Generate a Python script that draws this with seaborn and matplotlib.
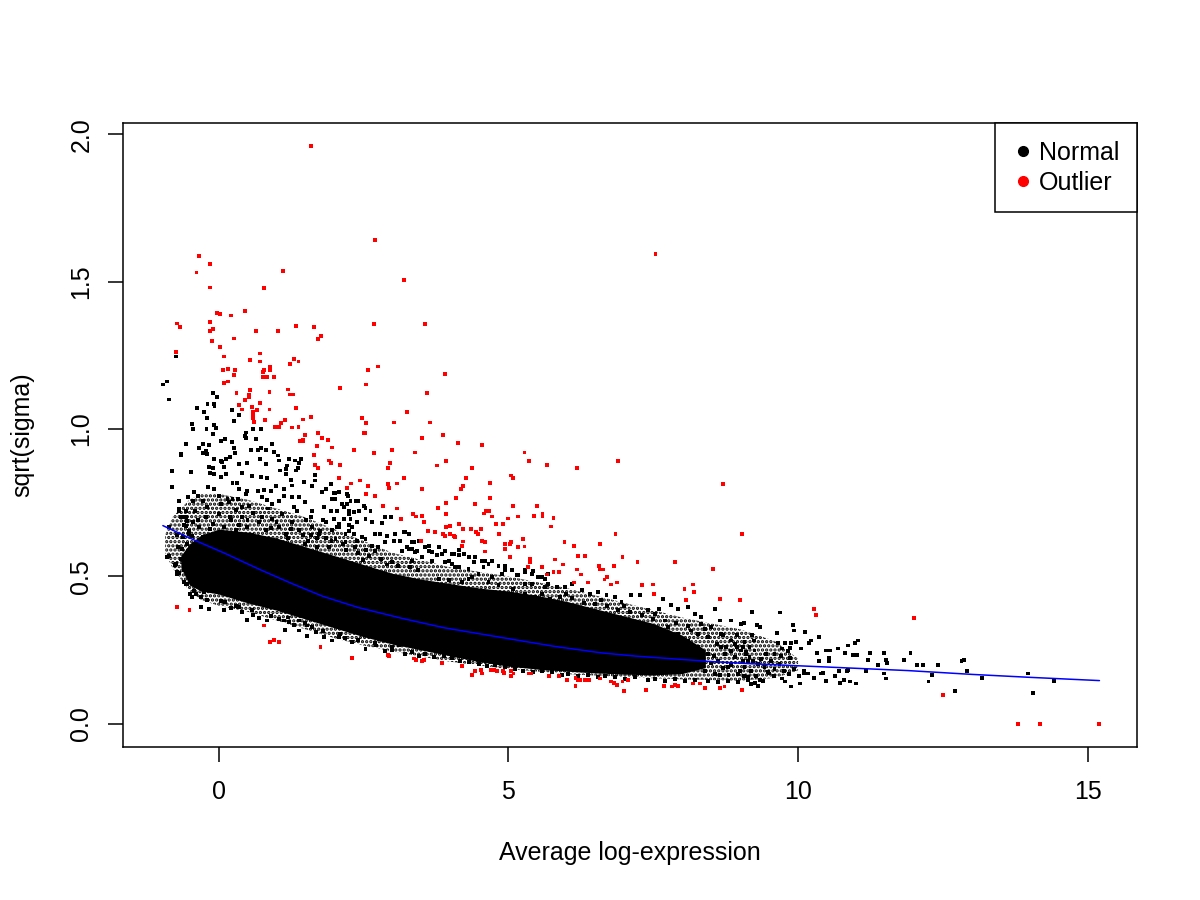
import matplotlib
matplotlib.use("Agg")
import matplotlib.pyplot as plt
import pandas as pd
import seaborn as sns
from matplotlib.lines import Line2D

sns.set_style("ticks")
plt.rcParams['font.family'] = ['Liberation Sans', 'DejaVu Sans']
plt.rcParams['text.color'] = 'black'
plt.rcParams['axes.labelcolor'] = 'black'
plt.rcParams['xtick.color'] = 'black'
plt.rcParams['ytick.color'] = 'black'
plt.rcParams['hatch.linewidth'] = 1.6

# ---- data (x = average log-expression, y = sqrt(sigma)) ----

# solid dense core of the cloud: lower / upper edge per x
core_x = [-0.65, -0.5, -0.3, 0.0, 0.5, 1.0, 1.5, 2.0, 2.5, 3.0, 3.5, 4.0, 4.5,
          5.0, 5.5, 6.0, 6.5, 7.0, 7.5, 8.0, 8.4]
core_hi = [0.57, 0.61, 0.64, 0.66, 0.65, 0.63, 0.60, 0.57, 0.54, 0.51, 0.49, 0.475, 0.46,
           0.45, 0.435, 0.415, 0.39, 0.365, 0.34, 0.30, 0.25]
core_lo = [0.53, 0.47, 0.45, 0.44, 0.41, 0.385, 0.355, 0.325, 0.295, 0.27, 0.25, 0.23, 0.21,
           0.195, 0.185, 0.178, 0.172, 0.168, 0.165, 0.17, 0.19]

# looser, speckled zone around the core
halo_x = [-0.92, -0.8, -0.5, -0.3, 0.0, 0.5, 1.0, 1.5, 2.0, 2.5, 3.0, 4.0, 5.0, 6.0, 7.0, 8.0,
          9.0, 9.6, 10.0]
halo_hi = [0.64, 0.70, 0.76, 0.78, 0.78, 0.76, 0.73, 0.70, 0.66, 0.62, 0.58, 0.53, 0.50, 0.46,
           0.41, 0.36, 0.32, 0.28, 0.22]
halo_lo = [0.58, 0.53, 0.45, 0.42, 0.40, 0.38, 0.35, 0.32, 0.29, 0.265, 0.245, 0.21, 0.185,
           0.168, 0.158, 0.15, 0.145, 0.155, 0.18]

normal_far_left = [(-0.89, 1.161), (-0.96, 1.151), (-0.86, 1.10), (-0.74, 1.246), (-0.809, 0.857),
                   (-0.654, 0.916), (-0.557, 0.95), (-0.683, 0.723), (-0.798, 0.803), (-0.89, 0.567),
                   (-0.74, 0.542), (-0.712, 0.514), (-0.54, 0.474), (-0.494, 0.44), (-0.683, 0.757),
                   (-0.597, 0.70), (-0.54, 0.689), (-0.568, 0.672), (-0.511, 0.655), (-0.453, 0.638),
                   (-0.54, 0.61), (-0.626, 0.593), (-0.597, 0.554), (-0.86, 0.666), (-0.86, 0.57)]

normal_upper_left = [(-0.098, 1.123), (-0.029, 1.108), (-0.373, 1.072), (-0.19, 1.084), (-0.075, 1.086),
                     (-0.069, 1.077), (-0.247, 1.057), (-0.201, 1.038), (0.229, 1.065), (0.356, 1.048),
                     (0.264, 1.028), (-0.459, 1.018), (-0.436, 1.0), (-0.075, 1.012), (-0.046, 1.003),
                     (-0.207, 1.0), (-0.103, 0.984), (0.47, 0.988), (0.602, 0.999), (0.729, 1.001),
                     (0.654, 0.967), (0.482, 0.97), (0.459, 0.977), (0.115, 0.967), (0.046, 0.958),
                     (0.229, 0.957), (-0.562, 0.95), (-0.264, 0.95), (-0.339, 0.936), (-0.161, 0.947),
                     (0.27, 0.935), (0.287, 0.918), (0.195, 0.905), (0.126, 0.899), (0.04, 0.891),
                     (0.556, 0.93), (0.688, 0.93), (0.729, 0.935), (0.815, 0.93), (0.918, 0.95),
                     (-0.648, 0.913), (-0.275, 0.918), (-0.218, 0.927), (-0.195, 0.914), (-0.075, 0.899),
                     (0.057, 0.888), (-0.092, 0.867), (0.356, 0.882), (0.499, 0.884), (0.717, 0.899),
                     (0.815, 0.882), (1.044, 0.893), (1.033, 0.91), (0.958, 0.922), (1.216, 0.899),
                     (1.32, 0.893), (1.417, 0.899), (1.388, 0.884), (1.188, 0.876), (1.159, 0.865),
                     (1.342, 0.859), (1.377, 0.867), (-0.476, 0.854), (-0.161, 0.871), (-0.149, 0.85),
                     (-0.075, 0.848), (0.097, 0.871), (0.126, 0.848), (0.401, 0.85), (0.574, 0.841),
                     (0.729, 0.837), (0.843, 0.834), (1.055, 0.859), (1.159, 0.848), (1.245, 0.828),
                     (1.273, 0.808), (0.04, 0.837), (0.241, 0.816), (0.327, 0.816), (0.356, 0.797),
                     (-0.419, 0.786), (-0.189, 0.803), (-0.075, 0.797), (0.011, 0.771), (0.499, 0.791),
                     (0.688, 0.791), (0.786, 0.794), (0.9, 0.791), (0.987, 0.805), (1.13, 0.797),
                     (1.474, 0.82), (1.618, 0.805), (1.847, 0.797), (1.991, 0.782), (1.79, 0.786),
                     (1.658, 0.843), (1.658, 0.825), (1.945, 0.812), (2.077, 0.786), (2.237, 0.774),
                     (-0.534, 0.769), (-0.361, 0.774), (-0.275, 0.757), (-0.436, 0.754), (-0.688, 0.729),
                     (-0.562, 0.723), (-0.648, 0.701), (-0.591, 0.673), (-0.62, 0.633), (0.155, 0.763),
                     (0.241, 0.763), (0.344, 0.763), (0.47, 0.78), (0.528, 0.74), (0.401, 0.735),
                     (0.183, 0.752), (0.757, 0.769), (0.843, 0.76), (0.918, 0.746), (1.044, 0.757),
                     (1.13, 0.771), (1.273, 0.769), (1.388, 0.769), (1.302, 0.735), (1.492, 0.752),
                     (1.618, 0.723), (1.819, 0.735), (1.933, 0.723), (2.019, 0.763), (2.163, 0.735),
                     (2.249, 0.723), (1.991, 0.695), (2.077, 0.667), (2.249, 0.673)]

normal_dense_left = [(-0.562, 0.701), (-0.448, 0.684), (-0.333, 0.667), (-0.218, 0.701), (-0.103, 0.678),
                     (0.011, 0.712), (0.098, 0.667), (0.212, 0.69), (0.298, 0.656), (0.413, 0.701),
                     (0.499, 0.667), (0.585, 0.639), (0.7, 0.684), (0.815, 0.656), (0.929, 0.695),
                     (1.044, 0.667), (1.159, 0.644), (1.274, 0.684), (1.388, 0.656), (1.503, 0.69),
                     (1.618, 0.667), (1.733, 0.644), (1.847, 0.684), (1.962, 0.656), (2.077, 0.678),
                     (2.191, 0.644), (2.306, 0.667), (-0.505, 0.644), (-0.275, 0.633), (0.011, 0.633),
                     (1.55, 0.62), (1.7, 0.60), (1.85, 0.63), (1.6, 0.64), (1.75, 0.655), (1.9, 0.60),
                     (1.5, 0.61), (2.4, 0.58), (2.6, 0.57), (2.8, 0.56), (3.0, 0.55), (2.2, 0.59),
                     (2.7, 0.585), (2.9, 0.54), (3.1, 0.535), (3.3, 0.53), (3.45, 0.52), (2.5, 0.555),
                     (-0.4, 0.72), (-0.2, 0.735), (0.05, 0.745), (0.3, 0.725), (0.6, 0.715), (0.85, 0.73),
                     (1.1, 0.71), (1.35, 0.72), (1.6, 0.70), (1.8, 0.69), (-0.35, 0.69), (0.2, 0.70),
                     (0.5, 0.69), (0.75, 0.70), (1.0, 0.685), (1.25, 0.66), (1.45, 0.64), (1.7, 0.63),
                     (1.95, 0.62), (2.15, 0.61), (2.35, 0.60), (2.55, 0.59), (2.75, 0.60), (-0.15, 0.66),
                     (0.35, 0.675), (0.9, 0.665), (1.2, 0.63), (-0.45, 0.43), (-0.2, 0.42), (0.05, 0.415),
                     (0.3, 0.40), (0.6, 0.37), (0.9, 0.365), (1.2, 0.36), (1.5, 0.34), (1.8, 0.315),
                     (2.1, 0.305), (2.4, 0.285), (2.7, 0.275), (3.0, 0.26), (-0.6, 0.48), (-0.3, 0.43),
                     (-0.7, 0.60), (-0.65, 0.56), (-0.6, 0.52), (-0.72, 0.64), (-0.55, 0.58), (-0.5, 0.52)]

normal_lower_left = [(-0.746, 0.539), (-0.677, 0.51), (-0.723, 0.508), (-0.562, 0.474), (-0.419, 0.449),
                     (-0.39, 0.44), (-0.247, 0.446), (-0.304, 0.395), (-0.161, 0.389), (0.115, 0.412),
                     (0.212, 0.393), (0.098, 0.384), (0.356, 0.395), (0.413, 0.378), (0.499, 0.352),
                     (0.585, 0.386), (0.7, 0.359), (0.843, 0.35), (1.044, 0.355), (1.147, 0.318),
                     (1.302, 0.336), (1.532, 0.298), (1.388, 0.316), (1.675, 0.31), (1.819, 0.293),
                     (1.962, 0.282), (2.077, 0.293), (2.18, 0.29), (2.306, 0.276), (2.536, 0.254),
                     (2.72, 0.265), (2.88, 0.246), (2.995, 0.25), (1.13, 0.35), (1.216, 0.344),
                     (1.388, 0.35), (1.532, 0.333), (1.618, 0.327), (2.077, 0.327), (2.278, 0.316),
                     (2.421, 0.31), (2.593, 0.299), (2.765, 0.287), (2.908, 0.282), (3.11, 0.265)]

normal_lower_mid = [(3.224, 0.236), (3.339, 0.242), (3.454, 0.231), (3.569, 0.236), (3.712, 0.225),
                    (3.884, 0.231), (4.028, 0.223), (4.171, 0.214), (4.315, 0.208), (4.487, 0.203),
                    (4.63, 0.197), (4.773, 0.2), (4.946, 0.191), (5.118, 0.186), (5.261, 0.18),
                    (5.433, 0.174), (5.577, 0.18), (5.749, 0.174), (5.921, 0.166), (6.036, 0.169),
                    (6.208, 0.163), (6.38, 0.166), (6.552, 0.157), (6.667, 0.163), (6.839, 0.157),
                    (7.011, 0.152), (7.183, 0.157), (7.413, 0.148), (7.527, 0.152), (7.699, 0.146),
                    (7.872, 0.15), (8.044, 0.144), (8.216, 0.148), (8.445, 0.146), (8.618, 0.14),
                    (8.79, 0.146), (8.962, 0.14), (9.134, 0.148)]

normal_upper_mid = [(2.019, 0.782), (2.077, 0.786), (1.962, 0.763), (2.048, 0.721), (2.134, 0.746),
                    (2.22, 0.746), (2.278, 0.757), (2.364, 0.755), (2.409, 0.755), (2.507, 0.74),
                    (2.536, 0.732), (2.622, 0.72), (2.22, 0.778), (2.249, 0.712), (2.335, 0.718),
                    (2.421, 0.723), (2.163, 0.695), (2.278, 0.695), (2.392, 0.684), (2.536, 0.695),
                    (2.65, 0.684), (2.823, 0.68), (2.88, 0.701), (2.983, 0.701), (2.048, 0.667),
                    (2.249, 0.655), (2.335, 0.644), (2.478, 0.633), (2.708, 0.644), (2.794, 0.644),
                    (2.909, 0.638), (3.052, 0.644), (3.196, 0.65), (3.282, 0.644), (2.019, 0.627),
                    (2.191, 0.616), (2.392, 0.621), (2.536, 0.627), (2.65, 0.604), (2.88, 0.616),
                    (3.023, 0.621), (3.138, 0.621), (3.339, 0.616), (3.5, 0.621), (3.626, 0.587),
                    (3.798, 0.599), (3.913, 0.587), (4.027, 0.576), (4.142, 0.59), (4.228, 0.576),
                    (3.282, 0.593), (3.167, 0.587), (3.396, 0.582), (4.429, 0.567), (4.601, 0.553),
                    (4.716, 0.551), (4.831, 0.536), (4.945, 0.536), (4.572, 0.531), (4.314, 0.525),
                    (4.085, 0.531), (3.97, 0.553), (3.683, 0.553), (3.511, 0.565), (3.339, 0.553),
                    (5.06, 0.52), (5.175, 0.503), (5.29, 0.52), (5.404, 0.508), (5.519, 0.497),
                    (5.634, 0.491), (5.691, 0.508), (4.888, 0.508), (4.716, 0.497), (4.486, 0.508),
                    (4.372, 0.497), (5.404, 0.474), (5.634, 0.463), (5.089, 0.457), (5.29, 0.474),
                    (4.831, 0.469), (4.659, 0.48), (4.314, 0.491), (4.2, 0.48), (3.97, 0.486),
                    (3.798, 0.491), (5.576, 0.44), (5.72, 0.423), (5.462, 0.429), (5.29, 0.44),
                    (5.175, 0.429)]

normal_upper_right = [(3.224, 0.65), (3.282, 0.644), (3.368, 0.616), (3.454, 0.621), (3.253, 0.599),
                      (3.339, 0.593), (3.425, 0.587), (3.569, 0.599), (3.626, 0.604), (3.683, 0.582),
                      (3.769, 0.571), (3.855, 0.576), (4.056, 0.576), (4.142, 0.571), (4.228, 0.576),
                      (3.913, 0.548), (4.027, 0.542), (4.142, 0.531), (4.315, 0.565), (4.401, 0.548),
                      (4.544, 0.553), (4.659, 0.542), (4.831, 0.536), (4.946, 0.52), (5.146, 0.503),
                      (5.29, 0.514), (5.433, 0.519), (5.577, 0.497), (5.691, 0.474), (5.835, 0.463),
                      (5.978, 0.463), (6.093, 0.474), (6.265, 0.452), (6.408, 0.44), (6.552, 0.446),
                      (6.695, 0.435), (6.839, 0.429), (6.953, 0.412), (7.125, 0.435), (7.269, 0.435),
                      (7.413, 0.384), (7.527, 0.372), (7.671, 0.423), (7.814, 0.401), (7.929, 0.389),
                      (8.101, 0.395), (8.216, 0.372), (8.33, 0.361), (8.56, 0.389), (8.646, 0.35),
                      (8.847, 0.35), (9.019, 0.338), (9.076, 0.276), (8.904, 0.27), (8.675, 0.259),
                      (8.445, 0.293), (8.273, 0.304), (5.9, 0.43), (6.1, 0.425), (6.3, 0.41),
                      (6.5, 0.405), (6.7, 0.40), (6.9, 0.385), (7.1, 0.38), (7.3, 0.37), (7.5, 0.355),
                      (7.7, 0.35), (7.9, 0.34), (8.1, 0.33), (6.0, 0.44), (6.6, 0.42), (7.0, 0.40),
                      (7.6, 0.39), (8.4, 0.32), (8.7, 0.30), (8.95, 0.30), (9.2, 0.30)]

normal_right_mid = [(7.757, 0.327), (7.929, 0.304), (8.101, 0.282), (8.273, 0.259), (8.445, 0.236),
                    (8.618, 0.214), (8.79, 0.191), (8.962, 0.169), (9.134, 0.214), (9.019, 0.248),
                    (8.847, 0.282), (8.675, 0.304), (8.503, 0.327), (8.33, 0.338), (8.158, 0.316),
                    (7.986, 0.259), (7.814, 0.236), (8.044, 0.214), (8.216, 0.191), (8.388, 0.18),
                    (8.56, 0.169), (8.732, 0.236), (8.904, 0.225), (9.076, 0.191), (9.162, 0.259),
                    (8.6, 0.27), (8.75, 0.26), (8.85, 0.245), (8.55, 0.23), (8.7, 0.19), (8.85, 0.20),
                    (9.0, 0.18), (8.5, 0.205), (8.65, 0.165), (8.95, 0.26), (9.1, 0.235), (8.8, 0.165)]

normal_tail_cluster = [(9.048, 0.259), (9.105, 0.242), (9.162, 0.225), (9.22, 0.214), (9.076, 0.191),
                       (9.191, 0.18), (9.306, 0.203), (9.363, 0.22), (9.421, 0.191), (9.478, 0.174),
                       (9.535, 0.214), (9.134, 0.157), (9.277, 0.163), (9.392, 0.146), (9.593, 0.186),
                       (9.679, 0.203), (9.765, 0.18), (9.851, 0.169), (9.937, 0.186), (10.023, 0.163),
                       (10.109, 0.18), (9.048, 0.214), (9.248, 0.248), (9.449, 0.237), (9.593, 0.237),
                       (9.191, 0.135), (9.065, 0.163)]

normal_tail = [(9.21, 0.38), (9.69, 0.377), (9.91, 0.336), (9.93, 0.316), (10.12, 0.312), (9.07, 0.34),
               (9.29, 0.336), (9.35, 0.329), (9.64, 0.306), (9.24, 0.282), (10.36, 0.295), (10.22, 0.282),
               (10.19, 0.275), (11.03, 0.282), (10.98, 0.275), (10.86, 0.265), (9.97, 0.278), (9.88, 0.272),
               (9.78, 0.272), (9.66, 0.272), (9.72, 0.255), (9.86, 0.258), (9.83, 0.245), (9.86, 0.224),
               (9.70, 0.231), (10.05, 0.255), (10.48, 0.248), (10.55, 0.248), (10.69, 0.255), (10.33, 0.241),
               (10.36, 0.214), (10.53, 0.224), (10.53, 0.214), (10.81, 0.241), (10.95, 0.234), (11.02, 0.234),
               (11.24, 0.241), (11.48, 0.241), (11.51, 0.217), (11.53, 0.207), (11.20, 0.217), (11.38, 0.20),
               (11.82, 0.217), (11.94, 0.241), (12.05, 0.20), (12.15, 0.20), (12.41, 0.20), (12.82, 0.214),
               (12.86, 0.217), (12.91, 0.177), (12.31, 0.166), (11.48, 0.17), (11.51, 0.153), (11.17, 0.177),
               (10.86, 0.183), (10.84, 0.177), (10.71, 0.177), (12.25, 0.143), (12.70, 0.112), (13.17, 0.156),
               (13.96, 0.17), (14.06, 0.105), (14.41, 0.146), (11.0, 0.136), (10.89, 0.143), (10.72, 0.139),
               (10.48, 0.146), (10.79, 0.149), (10.64, 0.163), (10.43, 0.173), (10.40, 0.17), (10.28, 0.156),
               (10.17, 0.17), (10.10, 0.17), (10.03, 0.136), (9.88, 0.126), (9.78, 0.143), (9.72, 0.153),
               (9.50, 0.17), (9.59, 0.163), (9.35, 0.149), (9.26, 0.139), (9.31, 0.129)]

outlier_high = [(1.60, 1.96), (2.70, 1.64), (3.20, 1.504), (-0.34, 1.586), (-0.14, 1.559), (-0.38, 1.531),
                (1.12, 1.535), (-0.15, 1.48), (0.79, 1.477), (-0.71, 1.358), (-0.67, 1.345), (-0.02, 1.392),
                (0.02, 1.389), (0.21, 1.385), (0.45, 1.399), (-0.15, 1.362), (-0.15, 1.334), (-0.09, 1.338),
                (0.64, 1.331), (1.03, 1.334), (1.33, 1.351), (1.64, 1.345), (1.77, 1.317), (1.72, 1.304),
                (2.69, 1.355), (3.56, 1.355), (-0.12, 1.297), (0.26, 1.307), (0.02, 1.277), (-0.74, 1.26),
                (0.72, 1.256), (0.09, 1.246), (0.55, 1.233), (0.71, 1.229), (1.31, 1.236), (1.38, 1.229),
                (1.24, 1.219), (0.89, 1.209), (0.89, 1.199), (0.07, 1.199), (0.17, 1.202), (0.28, 1.199),
                (0.76, 1.192), (0.79, 1.199), (0.26, 1.182), (0.76, 1.175), (0.84, 1.175), (0.95, 1.175),
                (0.17, 1.161), (0.10, 1.155), (2.58, 1.199), (2.75, 1.212), (2.55, 1.151), (2.10, 1.138),
                (1.20, 1.134), (0.55, 1.131), (0.88, 1.127), (1.24, 1.117), (1.29, 1.117), (0.31, 1.121),
                (0.52, 1.114), (0.53, 1.11), (0.45, 1.097), (0.71, 1.087), (0.36, 1.08), (0.40, 1.066),
                (0.57, 1.073), (0.88, 1.066), (1.34, 1.07), (0.60, 1.059), (0.67, 1.063), (0.60, 1.046),
                (0.59, 1.036), (0.62, 1.025), (0.81, 1.029), (1.14, 1.029), (1.46, 1.032), (1.60, 1.042),
                (1.08, 1.019), (1.05, 1.008), (0.98, 1.008), (1.27, 1.005), (1.38, 1.008), (2.48, 1.036),
                (2.55, 1.019), (3.03, 1.022), (3.25, 1.059), (7.54, 1.593), (3.91, 1.188), (3.60, 1.121),
                (3.65, 1.022)]

outlier_mid = [(3.87, 0.981), (3.51, 0.968), (4.13, 0.951), (4.54, 0.944), (3.39, 0.92), (5.28, 0.92),
               (5.35, 0.89), (3.92, 0.89), (3.77, 0.876), (4.37, 0.869), (5.66, 0.879), (6.18, 0.869),
               (6.90, 0.89), (3.20, 0.835), (4.27, 0.835), (5.04, 0.842), (5.08, 0.835), (4.68, 0.818),
               (3.51, 0.795), (4.22, 0.805), (4.18, 0.795), (4.68, 0.767), (4.10, 0.767), (8.71, 0.812),
               (3.92, 0.75), (4.42, 0.744), (3.79, 0.733), (5.08, 0.74), (5.49, 0.74), (3.92, 0.71),
               (4.61, 0.72), (4.66, 0.72), (4.58, 0.713), (4.72, 0.703), (3.36, 0.71), (3.41, 0.703),
               (3.51, 0.706), (4.99, 0.696), (5.16, 0.703), (5.44, 0.706), (5.59, 0.713), (5.59, 0.706),
               (5.78, 0.699), (3.55, 0.683), (3.99, 0.672), (4.15, 0.676), (4.78, 0.676), (4.91, 0.676),
               (5.73, 0.669), (3.61, 0.655), (3.92, 0.666), (4.22, 0.662), (4.35, 0.662), (4.53, 0.662),
               (3.73, 0.649), (3.87, 0.645), (3.91, 0.638), (3.99, 0.645), (4.06, 0.638), (4.08, 0.632),
               (4.44, 0.649), (4.47, 0.645), (4.84, 0.642), (6.85, 0.642), (9.04, 0.645), (4.22, 0.618),
               (4.54, 0.621), (4.60, 0.615), (4.94, 0.611), (5.04, 0.615), (5.03, 0.608), (5.25, 0.628),
               (5.97, 0.615), (6.13, 0.604), (6.59, 0.611), (4.20, 0.604), (5.16, 0.598), (5.28, 0.601),
               (4.94, 0.594), (4.60, 0.584), (5.37, 0.56), (5.37, 0.55), (5.80, 0.557), (6.20, 0.57),
               (6.33, 0.57), (6.97, 0.567), (5.94, 0.54), (5.34, 0.533), (5.03, 0.567), (7.23, 0.55),
               (7.87, 0.547), (6.56, 0.536), (6.59, 0.523), (6.63, 0.523), (6.83, 0.536), (6.18, 0.523),
               (5.87, 0.516), (5.78, 0.516), (5.66, 0.506), (6.25, 0.506), (5.58, 0.53), (6.70, 0.496),
               (6.66, 0.489), (6.14, 0.479), (6.37, 0.479), (6.78, 0.472), (6.88, 0.479), (7.30, 0.469),
               (7.49, 0.472), (8.54, 0.526), (8.18, 0.472), (8.21, 0.448), (8.04, 0.458), (7.52, 0.441),
               (8.06, 0.421), (8.66, 0.424), (9.00, 0.418), (2.51, 0.985), (2.53, 0.985), (1.72, 0.985),
               (1.50, 0.978), (1.45, 0.964), (1.41, 0.958), (1.46, 0.958), (1.79, 0.968), (1.89, 0.964),
               (1.70, 0.941), (1.96, 0.937), (2.34, 0.93), (2.99, 0.93), (1.65, 0.913), (2.69, 0.917),
               (1.91, 0.893), (1.94, 0.883), (2.10, 0.879), (1.67, 0.879), (1.72, 0.869), (2.96, 0.886),
               (2.93, 0.869), (2.08, 0.832), (2.29, 0.815), (2.44, 0.825), (2.58, 0.805), (2.22, 0.801),
               (2.93, 0.812), (2.94, 0.801), (3.08, 0.815), (2.55, 0.778), (2.70, 0.771), (2.84, 0.74),
               (3.08, 0.73), (3.15, 0.693), (3.49, 0.621), (10.28, 0.39), (10.31, 0.37), (12.0, 0.357)]

outlier_low = [(-0.71, 0.397), (-0.50, 0.387), (0.79, 0.333), (0.89, 0.278), (0.95, 0.285), (1.05, 0.278),
               (1.76, 0.261), (2.31, 0.224), (2.93, 0.234), (2.94, 0.231), (3.37, 0.221), (3.41, 0.217),
               (3.55, 0.217), (3.51, 0.211), (3.86, 0.207), (4.20, 0.194), (4.37, 0.166), (4.42, 0.177),
               (4.53, 0.183), (4.54, 0.17), (4.70, 0.183), (4.75, 0.183), (4.80, 0.177), (4.91, 0.18),
               (4.92, 0.173), (5.04, 0.177), (5.09, 0.17), (5.04, 0.16), (5.35, 0.17), (5.39, 0.17),
               (5.70, 0.163), (5.87, 0.16), (6.02, 0.149), (6.16, 0.156), (6.20, 0.149), (6.23, 0.149),
               (6.16, 0.129), (6.32, 0.149), (6.40, 0.149), (6.59, 0.153), (6.78, 0.143), (6.82, 0.139),
               (6.88, 0.132), (6.97, 0.143), (7.07, 0.149), (7.00, 0.112), (7.37, 0.115), (7.68, 0.129),
               (7.83, 0.126), (7.88, 0.132), (7.93, 0.129), (8.19, 0.136), (8.30, 0.136), (8.40, 0.122),
               (8.66, 0.122), (8.73, 0.126), (9.04, 0.115), (12.50, 0.098), (13.80, 0.0), (14.18, 0.0),
               (15.20, 0.0)]

# fitted trend line
trend_x = [-0.96, -0.5, 0.12, 0.7, 1.27, 1.8, 2.41, 3.17, 3.9, 4.89, 5.8, 6.61, 7.2, 7.76,
           8.4, 9.1, 10.5, 11.89, 13.0, 14.0, 15.2]
trend_y = [0.672, 0.63, 0.577, 0.524, 0.475, 0.432, 0.394, 0.357, 0.325, 0.292, 0.262, 0.240,
           0.229, 0.221, 0.212, 0.204, 0.192, 0.180, 0.167, 0.157, 0.146]

x_ticks = [0, 5, 10, 15]
y_ticks = [0.0, 0.5, 1.0, 1.5, 2.0]
y_tick_labels = ["0.0", "0.5", "1.0", "1.5", "2.0"]

# ---- assemble ----
normal = (normal_far_left + normal_upper_left + normal_dense_left + normal_lower_left +
          normal_lower_mid + normal_upper_mid + normal_upper_right + normal_right_mid +
          normal_tail_cluster + normal_tail)
outlier = outlier_high + outlier_mid + outlier_low
df = pd.DataFrame(
    [(x, y, "Normal") for x, y in normal] + [(x, y, "Outlier") for x, y in outlier],
    columns=["AveExpr", "sqrt_sigma", "status"])

fig = plt.figure(figsize=(12, 9), dpi=100)
ax = fig.add_axes([123 / 1200, 153.3 / 900, 1014 / 1200, 623.7 / 900])

ax.fill_between(halo_x, halo_lo, halo_hi, facecolor="none", edgecolor="black",
                hatch="....", linewidth=0, zorder=1)
ax.fill_between(core_x, core_lo, core_hi, color="black", linewidth=0, zorder=1)
sns.scatterplot(data=df, x="AveExpr", y="sqrt_sigma", hue="status",
                palette={"Normal": "black", "Outlier": "red"},
                marker="s", s=8, linewidth=0, legend=False, ax=ax, zorder=2)
sns.lineplot(x=trend_x, y=trend_y, color="blue", linewidth=1.1, sort=False, ax=ax, zorder=3)

ax.set_xlim(-1.648, 15.848)
ax.set_ylim(-0.0784, 2.0384)
ax.set_xticks(x_ticks)
ax.set_yticks(y_ticks)
ax.set_yticklabels(y_tick_labels, rotation=90, va="center")
ax.tick_params(axis="both", direction="out", length=10.8, width=1.1, color="black",
               labelcolor="black", labelsize=18, bottom=True, left=True)
ax.tick_params(axis="x", pad=13)
ax.tick_params(axis="y", pad=10.5)
ax.set_xlabel("")
ax.set_ylabel("")
for sp in ax.spines.values():
    sp.set_visible(True)
    sp.set_color("black")
    sp.set_linewidth(1.1)

fig.text(630 / 1200, 1 - 853 / 900, "Average log-expression", ha="center", va="center", fontsize=18)
fig.text(22 / 1200, 1 - 434.5 / 900, "sqrt(sigma)", ha="center", va="center", rotation=90, fontsize=18)

handles = [Line2D([], [], marker="o", ls="", color="black", markersize=7),
           Line2D([], [], marker="o", ls="", color="red", markersize=7)]
leg = ax.legend(handles, ["Normal", "Outlier"], loc="upper right", fontsize=18,
                frameon=True, fancybox=False, framealpha=1, edgecolor="black",
                borderpad=0.7, handlelength=0.8, handletextpad=0.25,
                labelspacing=0.24, borderaxespad=0)
leg.get_frame().set_linewidth(1.1)

fig.savefig("out.png", dpi=100)
